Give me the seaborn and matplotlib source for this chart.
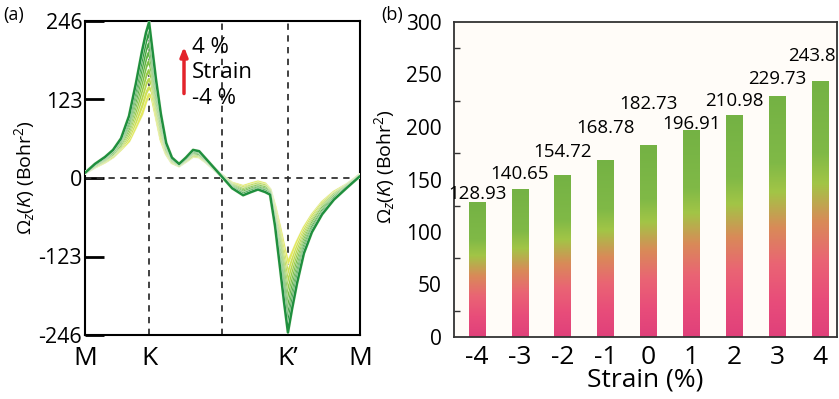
import numpy as np
import pandas as pd
import matplotlib
matplotlib.use("Agg")
import matplotlib.pyplot as plt
import matplotlib.patheffects as pe
from matplotlib.colors import LinearSegmentedColormap
from matplotlib.ticker import MultipleLocator
import seaborn as sns

# ---------------- data ----------------
# (a) Berry curvature along the M-K-G-K'-M path (path coordinate 0..1)
k_path = [0.000, 0.036, 0.073, 0.102, 0.131, 0.160, 0.185, 0.207, 0.222, 0.233,
          0.244, 0.258, 0.276, 0.295, 0.316, 0.342, 0.367, 0.393, 0.415, 0.440,
          0.469, 0.498, 0.535, 0.575, 0.604, 0.629, 0.655, 0.673, 0.691, 0.709,
          0.724, 0.738, 0.753, 0.771, 0.796, 0.825, 0.862, 0.905, 0.953, 1.000]

omega_m4 = [8, 17, 25, 33, 45, 58, 80, 100, 120, 131, 125, 97, 60, 38, 24, 19, 26, 34, 33, 25,
            14, 4, -8, -13, -9, -6, -9, -18, -45, -78, -108, -133, -118, -100, -78, -58, -38, -22, -10, 5]
omega_m3 = [8, 18, 26, 34, 47, 63, 88, 112, 133, 142, 135, 104, 65, 40, 25, 19, 27, 35, 34, 26,
            14, 4, -9, -15, -11, -8, -11, -19, -49, -86, -119, -150, -129, -108, -83, -61, -40, -24, -11, 5]
omega_m2 = [8, 18, 27, 36, 49, 68, 97, 125, 147, 155, 145, 112, 70, 42, 26, 20, 27, 36, 35, 26,
            14, 4, -10, -17, -12, -9, -12, -20, -53, -93, -130, -163, -140, -116, -88, -65, -43, -25, -11, 5]
omega_m1 = [8, 19, 28, 37, 51, 73, 105, 137, 160, 169, 155, 119, 75, 44, 27, 20, 28, 38, 36, 27,
            15, 3, -11, -18, -14, -11, -14, -21, -56, -101, -141, -177, -151, -124, -93, -68, -45, -26, -12, 4]
omega_0 = [8, 19, 29, 38, 53, 78, 114, 149, 174, 183, 165, 126, 80, 46, 28, 20, 29, 39, 37, 27,
           15, 3, -12, -20, -15, -12, -15, -22, -60, -109, -151, -190, -162, -132, -98, -71, -47, -28, -12, 4]
omega_p1 = [8, 20, 30, 40, 56, 83, 122, 161, 187, 197, 175, 133, 85, 49, 29, 21, 30, 40, 38, 28,
            15, 3, -13, -22, -17, -14, -17, -23, -64, -117, -162, -204, -172, -141, -103, -75, -50, -29, -13, 4]
omega_p2 = [8, 21, 31, 41, 58, 87, 131, 173, 201, 211, 185, 141, 90, 51, 30, 21, 30, 41, 40, 29,
            15, 2, -14, -24, -19, -15, -19, -24, -68, -124, -173, -217, -183, -149, -108, -78, -52, -31, -14, 3]
omega_p3 = [8, 21, 32, 43, 60, 92, 139, 186, 214, 229, 195, 148, 95, 53, 31, 22, 31, 43, 41, 29,
            16, 2, -15, -25, -20, -17, -20, -25, -71, -132, -184, -229, -194, -157, -113, -82, -55, -32, -14, 3]
omega_p4 = [8, 22, 33, 44, 62, 97, 148, 198, 228, 244, 205, 155, 100, 55, 32, 22, 32, 44, 42, 30,
            16, 2, -16, -27, -22, -18, -22, -26, -75, -140, -195, -242, -205, -165, -118, -85, -57, -34, -15, 3]

# drawing order: -4 % (yellow) first, 4 % (dark green) last
curve_labels = ["-4 %", "-3 %", "-2 %", "-1 %", "0 %", "1 %", "2 %", "3 %", "4 %"]
curves = [omega_m4, omega_m3, omega_m2, omega_m1, omega_0, omega_p1, omega_p2, omega_p3, omega_p4]
curve_colors = ["#e4e95f", "#cfe055", "#b6d64c", "#98ca47", "#7abf45", "#5eb343", "#45a641", "#2f9a3f", "#1f8f3e"]

path_ticks = [0.0, 0.233, 0.738, 1.0]
path_labels = ["M", "K", "K\u2019", "M"]
path_lines = [0.233, 0.498, 0.738]
a_yticks = [-246, -123, 0, 123, 246]
a_yticklabels = ["-246", "-123", "0", "123", "246"]

# (b) Berry curvature at K vs strain
strain = [-4, -3, -2, -1, 0, 1, 2, 3, 4]
omega_K = [128.93, 140.65, 154.72, 168.78, 182.73, 196.91, 210.98, 229.73, 243.8]
value_text = ["128.93", "140.65", "154.72", "168.78", "182.73", "196.91", "210.98", "229.73", "243.8"]
label_x = [-4, -3, -2, -1, 0, 1, 2, 3, 3.82]
label_y = [136, 155, 176, 199, 222, 203, 225, 246, 268]

# ---------------- style ----------------
sns.set_theme(style="ticks")
plt.rcParams["font.family"] = ["Open Sans", "DejaVu Sans"]
plt.rcParams["mathtext.fontset"] = "custom"
plt.rcParams["mathtext.rm"] = "Open Sans"
plt.rcParams["mathtext.it"] = "Open Sans:italic"
plt.rcParams["text.color"] = "black"
plt.rcParams["axes.labelcolor"] = "black"
plt.rcParams["xtick.labelcolor"] = "black"
plt.rcParams["ytick.labelcolor"] = "black"

fig = plt.figure(figsize=(8.39, 3.99), dpi=100)
ax1 = fig.add_axes([85 / 839, 1 - 335 / 399, 275 / 839, 314 / 399])
ax2 = fig.add_axes([454 / 839, 1 - 337 / 399, 383 / 839, 315 / 399])

# ---------------- panel (a) ----------------
rows = []
for lab, vals in zip(curve_labels, curves):
    assert len(vals) == len(k_path)
    for kx, v in zip(k_path, vals):
        rows.append({"k": kx, "omega": v, "strain": lab})
df_a = pd.DataFrame(rows)

for xv in path_lines:
    ax1.axvline(xv, color="#333333", lw=1.3, ls=(0, (3.5, 3)), zorder=1)
ax1.axhline(0, color="#333333", lw=1.3, ls=(0, (3.5, 3)), zorder=1)

sns.lineplot(data=df_a, x="k", y="omega", hue="strain", hue_order=curve_labels,
             palette=dict(zip(curve_labels, curve_colors)), estimator=None, sort=False,
             lw=1.8, legend=False, ax=ax1, zorder=3, solid_joinstyle="round",
             path_effects=[pe.Stroke(linewidth=2.4, foreground="#f2f7e6"), pe.Normal()])

ax1.set_xlim(0, 1)
ax1.set_ylim(-246, 246)
ax1.set_xticks(path_ticks)
ax1.set_xticklabels(path_labels, fontsize=19)
ax1.set_yticks(a_yticks)
ax1.set_yticklabels(a_yticklabels, fontsize=15.5)
ax1.tick_params(axis="y", direction="in", length=14, width=2, pad=2, color="black")
ax1.tick_params(axis="x", length=0, pad=8)
ax1.set_xlabel("")
ax1.set_ylabel(r"$\mathit{\Omega_z(K)}$ (Bohr$^2$)", fontsize=14)
ax1.yaxis.set_label_coords(-0.175, 0.5)
for s in ax1.spines.values():
    s.set_linewidth(1.5)
    s.set_color("black")

ax1.annotate("", xy=(0.36, 210), xytext=(0.36, 128),
             arrowprops=dict(arrowstyle="-|>,head_width=0.18,head_length=0.45", color="#e3232b", lw=2.5))
ax1.text(0.39, 204, "4 %", fontsize=16, va="center", ha="left")
ax1.text(0.39, 166, "Strain", fontsize=16, va="center", ha="left")
ax1.text(0.39, 125, "-4 %", fontsize=16, va="center", ha="left")

# ---------------- panel (b) ----------------
df_b = pd.DataFrame({"strain": strain, "omega": omega_K})
ax2.set_facecolor("#fffcf8")
sns.barplot(data=df_b, x="strain", y="omega", native_scale=True, width=0.39,
            color="#76b445", ax=ax2, zorder=2)

bar_cmap = LinearSegmentedColormap.from_list(
    "bar", [(0.0, "#e0407a"), (0.15, "#e84d7a"), (0.30, "#ea6474"), (0.45, "#d98a58"),
            (0.60, "#a2c546"), (0.72, "#80b947"), (1.0, "#74b244")])
grad = np.linspace(0, 1, 256).reshape(-1, 1)
for patch in list(ax2.patches):
    x0, w, h = patch.get_x(), patch.get_width(), patch.get_height()
    patch.set_facecolor("none")
    patch.set_edgecolor("none")
    im = ax2.imshow(grad, extent=[x0, x0 + w, 0, h], origin="lower", aspect="auto",
                    cmap=bar_cmap, zorder=2.5, interpolation="bilinear")
    im.set_clip_path(patch)

for xv, yv, t in zip(label_x, label_y, value_text):
    ax2.text(xv, yv, t, ha="center", va="center", fontsize=13.5, zorder=5)

ax2.set_xlim(-4.54, 4.4)
ax2.set_ylim(0, 300)
ax2.set_xticks(strain)
ax2.set_xticklabels([str(s) for s in strain], fontsize=19)
ax2.set_yticks(range(0, 301, 50))
ax2.set_yticklabels([str(v) for v in range(0, 301, 50)], fontsize=15)
ax2.yaxis.set_minor_locator(MultipleLocator(25))
ax2.tick_params(axis="y", which="major", length=0, pad=9)
ax2.tick_params(axis="y", which="minor", direction="in", length=4, width=1, color="#333333")
ax2.tick_params(axis="x", direction="in", length=5, width=1.2, color="#222222", pad=6)
ax2.set_xlabel("Strain (%)", fontsize=19, labelpad=0)
ax2.xaxis.set_label_coords(0.5, -0.098)
ax2.set_ylabel(r"$\mathit{\Omega_z(K)}$ (Bohr$^2$)", fontsize=14)
ax2.yaxis.set_label_coords(-0.15, 0.54)
for s in ax2.spines.values():
    s.set_linewidth(1.3)
    s.set_color("#333333")

fig.text(3 / 839, 1 - 15 / 399, "(a)", fontsize=13, va="center", ha="left")
fig.text(381 / 839, 1 - 15 / 399, "(b)", fontsize=13, va="center", ha="left")

fig.savefig("out.png", dpi=100)
